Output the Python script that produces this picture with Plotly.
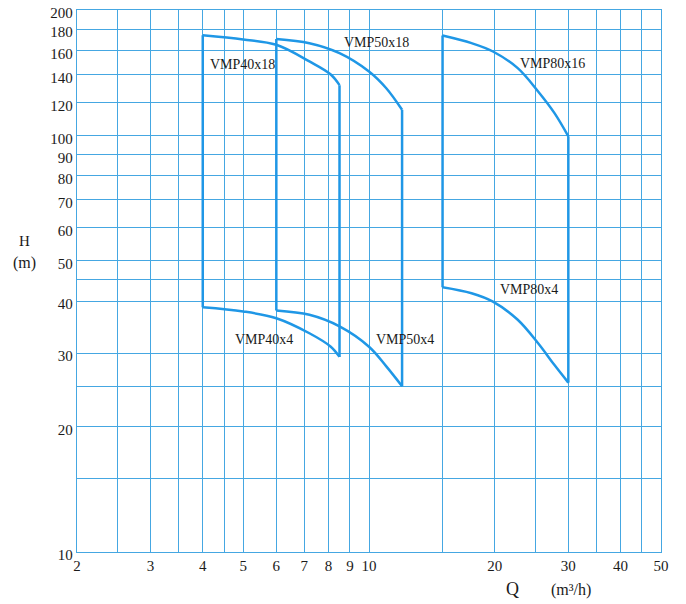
import math
import plotly.graph_objects as go

# ---- data ----
q40 = [4, 5, 6, 7.2, 8.1, 8.5]
h40x18 = [174, 170, 165, 150.5, 140, 132]
h40x4 = [38.7, 37.8, 36.4, 33.5, 31.1, 29.4]

q50 = [6, 7.2, 8.5, 10, 11, 12]
h50x18 = [170.4, 166.5, 157.6, 142.4, 129.8, 115.2]
h50x4 = [38, 37.1, 34.8, 31.1, 27.9, 25]

q80 = [15, 17.6, 19.8, 22.7, 25.4, 27.8, 30]
h80x16 = [173.7, 166.5, 159, 145, 127.5, 113.1, 99.5]
h80x4 = [43.2, 41.8, 39.9, 36.1, 31.7, 28.1, 25.5]

labels = ["VMP40x18", "VMP50x18", "VMP80x16", "VMP40x4", "VMP50x4", "VMP80x4"]
label_q = [4.98, 10.4, 27.5, 5.6, 12.2, 24.1]
label_h = [148, 167, 149, 32.3, 32.3, 42.6]

x_grid = [2, 2.5, 3, 3.5, 4, 4.5, 5, 6, 7, 8, 9, 10, 15, 20, 25, 30, 35, 40, 45, 50]
x_labeled = [2, 3, 4, 5, 6, 7, 8, 9, 10, 20, 30, 40, 50]
y_grid = [10, 15, 20, 25, 30, 40, 45, 50, 60, 70, 80, 90, 100, 120, 140, 160, 180, 200]
y_labeled = [10, 20, 30, 40, 50, 60, 70, 80, 90, 100, 120, 140, 160, 180, 200]

CURVE = "#1f97e6"
GRID = "#45a7e2"
TXT = "#1a1a1a"
FONT = "Liberation Serif"

# page body has an 8px margin, so the figure is sized/offset to compensate
OFF = 8
W, H = 686 - OFF, 604 - OFF
ml, mr, mt, mb = 77 - OFF, 25, 10 - OFF, 52
pw, ph = W - ml - mr, H - mt - mb


def px2paper(px, py):
    # px, py are screen pixel positions
    return (px - OFF - ml) / pw, 1 - (py - OFF - mt) / ph


fig = go.Figure()

pumps = [(q40, h40x18, h40x4), (q50, h50x18, h50x4), (q80, h80x16, h80x4)]
for q, hi, lo in pumps:
    for h in (hi, lo):
        fig.add_trace(go.Scatter(x=q, y=h, mode="lines",
                                 line=dict(color=CURVE, width=2.5, shape="spline", smoothing=1.0),
                                 hoverinfo="skip", showlegend=False))
    fig.add_trace(go.Scatter(x=[q[0], q[0]], y=[lo[0], hi[0]], mode="lines",
                             line=dict(color=CURVE, width=2.5), hoverinfo="skip", showlegend=False))
    fig.add_trace(go.Scatter(x=[q[-1], q[-1]], y=[lo[-1], hi[-1]], mode="lines",
                             line=dict(color=CURVE, width=2.5), hoverinfo="skip", showlegend=False))

for t, qx, hy in zip(labels, label_q, label_h):
    fig.add_annotation(x=math.log10(qx), y=math.log10(hy), xref="x", yref="y", text=t,
                       showarrow=False, xanchor="center", yanchor="middle",
                       font=dict(family=FONT, size=14, color=TXT))

# axis titles placed by screen pixel position
for text, px, py, size in [("H", 24, 241, 15), ("(m)", 24, 263, 16),
                           ("Q", 512, 589, 18), ("(m³/h)", 571, 590, 16)]:
    ax_, ay_ = px2paper(px, py)
    fig.add_annotation(x=ax_, y=ay_, xref="paper", yref="paper", text=text, showarrow=False,
                       xanchor="center", yanchor="middle",
                       font=dict(family=FONT, size=size, color=TXT))

fig.update_xaxes(type="log", range=[math.log10(2), math.log10(50)],
                 tickvals=x_grid,
                 ticktext=[str(v) if v in x_labeled else "" for v in x_grid],
                 showgrid=True, gridcolor=GRID, gridwidth=1.3,
                 showline=True, linecolor=GRID, linewidth=1.3, mirror=True,
                 ticks="", zeroline=False, automargin=False, ticklabeloverflow="allow",
                 tickfont=dict(family=FONT, size=15, color=TXT))
fig.update_yaxes(type="log", range=[1, math.log10(200)],
                 tickvals=y_grid,
                 ticktext=[str(v) if v in y_labeled else "" for v in y_grid],
                 showgrid=True, gridcolor=GRID, gridwidth=1.3,
                 showline=True, linecolor=GRID, linewidth=1.3, mirror=True,
                 ticks="", zeroline=False, automargin=False, ticklabeloverflow="allow",
                 ticklabelshift=3,
                 tickfont=dict(family=FONT, size=15, color=TXT))

fig.update_layout(width=W, height=H,
                  margin=dict(l=ml, r=mr, t=mt, b=mb, autoexpand=False),
                  paper_bgcolor="white", plot_bgcolor="white",
                  showlegend=False)

fig.write_html("out.html")
